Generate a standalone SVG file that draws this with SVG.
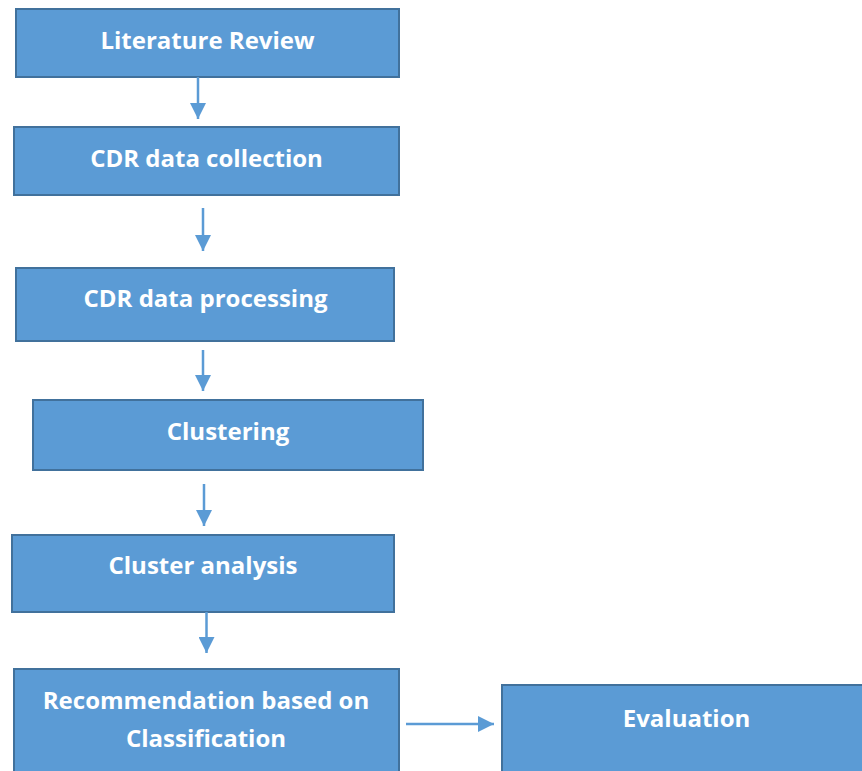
<svg xmlns="http://www.w3.org/2000/svg" width="862" height="771" viewBox="0 0 862 771">
<style>
.box{fill:#5B9BD5;stroke:#41719C;stroke-width:2}
.lbl{font-family:"Open Sans",Lato,"Liberation Sans",sans-serif;font-weight:bold;font-size:24px;fill:#FFFFFF;text-anchor:middle;font-variant-ligatures:none}
.conn{stroke:#5B9BD5;stroke-width:2.5;fill:none}
</style>
<defs>
<marker id="ah" markerUnits="userSpaceOnUse" markerWidth="16" markerHeight="16" refX="16" refY="8" orient="auto">
<path d="M0,0 L16,8 L0,16 z" fill="#5B9BD5"/>
</marker>
</defs>
<rect width="862" height="771" fill="#FFFFFF"/>
<g id="n1"><rect class="box" x="16" y="9" width="383" height="68"/><text class="lbl" x="207.5" y="49">Literature Review</text></g>
<g id="n2"><rect class="box" x="14" y="127" width="385" height="68"/><text class="lbl" x="206.5" y="167">CDR data collection</text></g>
<g id="n3"><rect class="box" x="16" y="268" width="378" height="73"/><text class="lbl" x="205.5" y="307">CDR data processing</text></g>
<g id="n4"><rect class="box" x="33" y="400" width="390" height="70"/><text class="lbl" x="228" y="440">Clustering</text></g>
<g id="n5"><rect class="box" x="12" y="535" width="382" height="77"/><text class="lbl" x="203" y="574">Cluster analysis</text></g>
<g id="n6"><rect class="box" x="14" y="669" width="385" height="110"/><text class="lbl" x="206" y="709">Recommendation based on</text><text class="lbl" x="206" y="747">Classification</text></g>
<g id="n7"><rect class="box" x="502" y="685" width="370" height="100"/><text class="lbl" x="686.5" y="727">Evaluation</text></g>
<g id="connectors">
<line class="conn" x1="198" y1="77" x2="198" y2="119" marker-end="url(#ah)"/>
<line class="conn" x1="203" y1="208" x2="203" y2="251" marker-end="url(#ah)"/>
<line class="conn" x1="203" y1="350" x2="203" y2="391" marker-end="url(#ah)"/>
<line class="conn" x1="204" y1="484" x2="204" y2="526" marker-end="url(#ah)"/>
<line class="conn" x1="206.5" y1="612" x2="206.5" y2="653" marker-end="url(#ah)"/>
<line class="conn" x1="406" y1="724" x2="494" y2="724" marker-end="url(#ah)"/>
</g>
</svg>
